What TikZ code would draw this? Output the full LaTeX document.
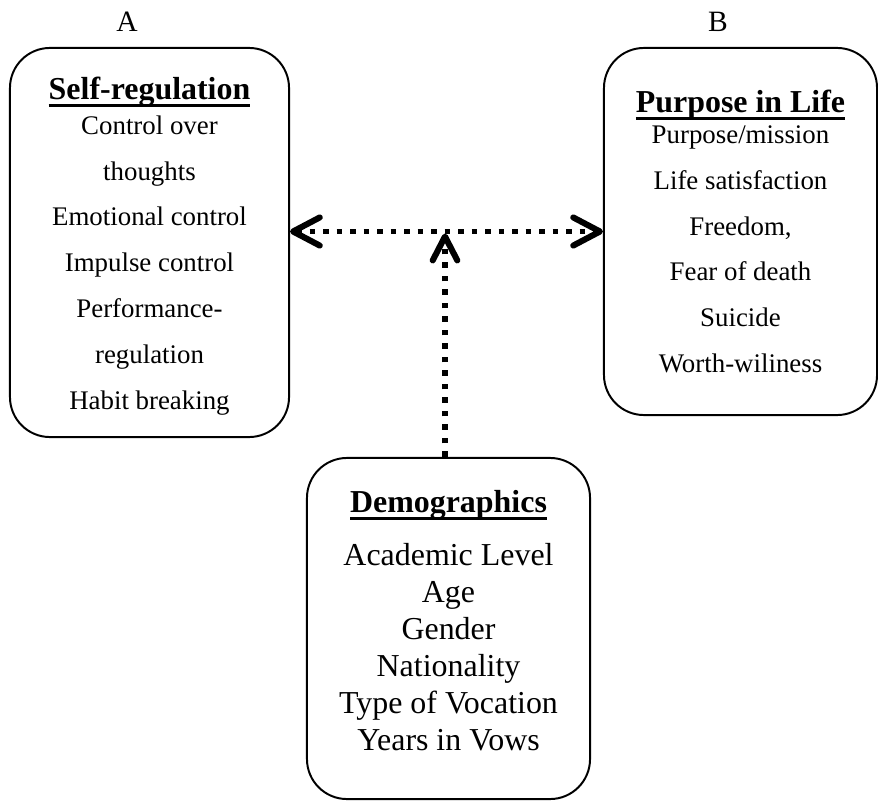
\documentclass[tikz,border=0pt]{standalone}
\usepackage{fontspec}
\setmainfont{Liberation Serif}
\usetikzlibrary{arrows.meta,positioning}
\newcommand{\boxtitle}[1]{{\fontsize{22.7}{26}\selectfont\bfseries
    \setbox0\hbox{#1}\rlap{\rule[-5.5pt]{\wd0}{2pt}}\box0}}
\tikzset{box/.style = {rectangle, rounded corners=1cm, draw=black,
    line width=1.4pt, align=center, inner sep=0pt},
  smallText/.style = {font=\fontsize{19.1}{32.6}\selectfont},
  bigText/.style = {font=\fontsize{22.7}{26.3}\selectfont},
  tag/.style = {font=\fontsize{21}{25}\selectfont},
  link/.style = {line width=4.2pt, dash pattern=on 4.2pt off 5.4pt},
  barb/.tip = {Straight Barb[length=19pt, width=20pt, line width=4.3pt, round]},
  smallBarb/.tip = {Straight Barb[length=17pt, width=17.5pt, line width=4.3pt, round]}}

\begin{document}
\begin{tikzpicture}[x=0.025cm, y=-0.025cm]
  \useasboundingbox (0,0) rectangle (878,800);

  \node[box, smallText, minimum width=6.975cm, minimum height=9.725cm]
    (selfReg) at (149.5,242.5)
    {\rule{0pt}{21pt}\boxtitle{Self-regulation}\\[-7.8pt]
      Control over\\ thoughts\\ Emotional control\\ Impulse control\\
      Performance-\\ regulation\\ Habit breaking};

  \node[box, smallText, minimum width=6.825cm, minimum height=9.175cm]
    (purpose) at (740.5,231.5)
    {\boxtitle{Purpose in Life}\\[-10.7pt]
      Purpose/mission\\ Life satisfaction\\ Freedom,\\ Fear of death\\
      Suicide\\ Worth-wiliness};

  \node[box, bigText, minimum width=7.075cm, minimum height=8.525cm]
    (demo) at (448.5,628.5)
    {\boxtitle{Demographics}\\[11.4pt]
      Academic Level\\ Age\\ Gender\\ Nationality\\ Type of Vocation\\
      Years in Vows\rule[-12pt]{0pt}{0pt}};

  \node[tag, anchor=base] (tagA) at (127,32) {A};
  \node[tag, anchor=base] (tagB) at (718,32) {B};

  % links
  \coordinate (stem) at ([xshift=-0.0875cm]demo.north);
  \coordinate (meet) at (purpose.west -| stem);
  \draw[link, barb-barb] (selfReg.east |- purpose.west) -- (purpose.west);
  \draw[link, -smallBarb] (stem) -- ([yshift=-0.05cm]meet);

\end{tikzpicture}
\end{document}
